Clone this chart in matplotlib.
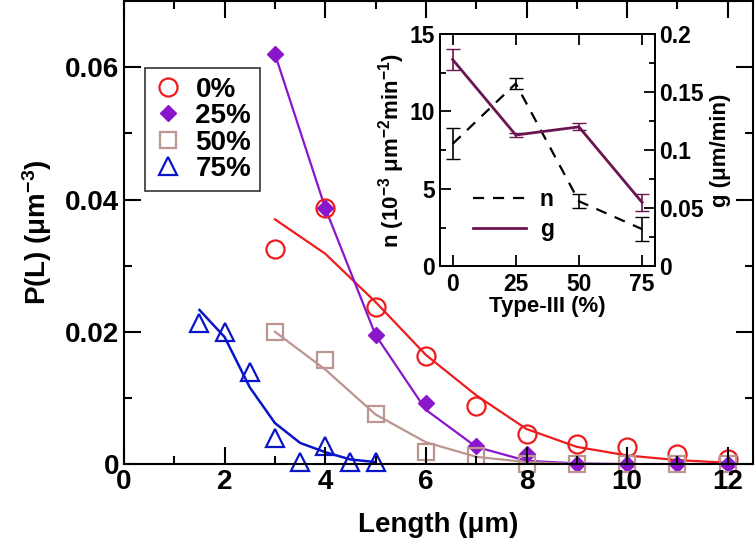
import matplotlib
matplotlib.use("Agg")
import matplotlib.pyplot as plt
from matplotlib.lines import Line2D

plt.rcParams.update({
    "font.family": "Liberation Sans",
    "font.weight": "bold",
    "axes.labelweight": "bold",
    "mathtext.fontset": "custom",
    "mathtext.rm": "Liberation Sans:bold",
    "mathtext.default": "rm",
    "axes.linewidth": 1.5,
})

# main panel: length distributions
L0 = [3, 4, 5, 6, 7, 8, 9, 10, 11, 12]
p0 = [0.0325, 0.0387, 0.0237, 0.0163, 0.0088, 0.0045, 0.0031, 0.0026, 0.0015, 0.0007]
f0 = [0.0370, 0.0318, 0.0245, 0.0165, 0.0104, 0.0053, 0.0026, 0.0013, 0.0006, 0.0002]
p25 = [0.0620, 0.0387, 0.0195, 0.0092, 0.0027, 0.0015, 0.0, 0.0, 0.0, 0.0]
f25 = [0.0620, 0.0387, 0.0195, 0.0082, 0.0026, 0.0005, 0.0001, 0.0, 0.0, 0.0]
p50 = [0.0200, 0.0157, 0.0075, 0.0018, 0.0012, 0.0, 0.0, 0.0, 0.0, 0.0]
f50 = [0.0200, 0.0143, 0.0075, 0.0033, 0.0011, 0.0003, 0.0, 0.0, 0.0, 0.0]
L75 = [1.5, 2, 2.5, 3, 3.5, 4, 4.5, 5]
p75 = [0.0213, 0.0199, 0.0139, 0.0039, 0.0003, 0.0027, 0.0003, 0.0003]
f75 = [0.0233, 0.0192, 0.0116, 0.0062, 0.0032, 0.0018, 0.0007, 0.0003]

# inset: nucleation rate n and growth rate g vs type-III fraction
typ = [0, 25, 50, 75]
n_val = [7.9, 11.8, 4.2, 2.4]
n_err = [1.0, 0.35, 0.45, 0.8]
g_val = [0.178, 0.113, 0.120, 0.055]
g_err = [0.009, 0.002, 0.003, 0.007]

RED, PUR, TAN, BLU, MAR = "#ee1c1c", "#8a16cc", "#bc9490", "#0a14c8", "#6a1550"

fig = plt.figure(figsize=(7.56, 5.39), dpi=100)
ax = fig.add_axes([0.164, 0.139, 0.832, 0.859])
ax.set_axisbelow(False)

ax.plot(L0, f0, "-", color=RED, lw=1.6)
ax.plot(L0, f25, "-", color=PUR, lw=1.6)
ax.plot(L0, f50, "-", color=TAN, lw=1.6)
ax.plot(L75, f75, "-", color=BLU, lw=1.8)
ax.plot(L0, p0, "o", ls="none", ms=13, mfc="none", mec=RED, mew=1.6, label="0%", clip_on=False)
ax.plot(L0, p25, "D", ls="none", ms=8, color=PUR, label="25%", clip_on=False)
ax.plot(L0, p50, "s", ls="none", ms=12, mfc="none", mec=TAN, mew=1.6, label="50%", clip_on=False)
ax.plot(L75, p75, "^", ls="none", ms=13, mfc="none", mec=BLU, mew=1.6, label="75%", clip_on=False)

ax.set_xlim(0, 12.5)
ax.set_ylim(0, 0.07)
ax.set_xticks([0, 2, 4, 6, 8, 10, 12])
ax.set_xticks(range(1, 13, 2), minor=True)
ax.set_yticks([0, 0.02, 0.04, 0.06])
ax.set_yticklabels(["0", "0.02", "0.04", "0.06"])
ax.set_yticks([0.01, 0.03, 0.05], minor=True)
ax.tick_params(which="both", direction="in", top=True, right=True, labelsize=20, width=1.5)
ax.tick_params(which="major", length=12)
ax.tick_params(which="minor", length=6)
ax.set_xlabel("Length (μm)", fontsize=20, labelpad=12)
ax.set_ylabel("P(L) (μm$^{-3}$)", fontsize=20, labelpad=8)
leg = ax.legend(loc="upper left", bbox_to_anchor=(0.012, 0.885), fontsize=20, frameon=True,
                fancybox=False, edgecolor="black", handletextpad=0.5, borderpad=0.3,
                labelspacing=0.02, handlelength=1.0)
leg.get_frame().set_linewidth(1.2)

# inset
ins = fig.add_axes([0.582, 0.506, 0.284, 0.431])
ins.errorbar(typ, n_val, yerr=n_err, color="black", ls=(0, (5, 4)), lw=1.6,
             capsize=5, elinewidth=1.2)
ins2 = ins.twinx()
ins2.errorbar(typ, g_val, yerr=g_err, color=MAR, ls="-", lw=2.0,
              capsize=5, elinewidth=1.2)
ins.set_xlim(-5, 80)
ins.set_ylim(0, 15)
ins2.set_ylim(0, 0.2)
ins.set_xticks(typ)
ins.set_yticks([0, 5, 10, 15])
ins.set_yticks([2.5, 7.5, 12.5], minor=True)
ins2.set_yticks([0, 0.05, 0.1, 0.15, 0.2])
ins2.set_yticklabels(["0", "0.05", "0.1", "0.15", "0.2"])
ins2.set_yticks([0.025, 0.075, 0.125, 0.175], minor=True)
ins.tick_params(which="both", direction="in", top=True, labelsize=16.5, width=1.3)
ins2.tick_params(which="both", direction="in", labelsize=16.5, width=1.3)
ins.tick_params(axis="x", pad=5)
for a in (ins, ins2):
    a.tick_params(which="major", length=8)
    a.tick_params(which="minor", length=4)
    for s in a.spines.values():
        s.set_linewidth(1.3)
ins.set_xlabel("Type-III (%)", fontsize=16, labelpad=0)
ins.set_ylabel("n (10$^{-3}$ μm$^{-2}$min$^{-1}$)", fontsize=16, labelpad=2)
ins2.set_ylabel("g (μm/min)", fontsize=16, labelpad=4)
handles = [Line2D([], [], color="black", ls=(0, (5, 4)), lw=1.6),
           Line2D([], [], color=MAR, ls="-", lw=2.0)]
ins2.legend(handles, ["n", "g"], loc="lower left", bbox_to_anchor=(0.06, 0.02), fontsize=16.5,
            frameon=False, handlelength=2.3, labelspacing=0.3, handletextpad=0.6)

fig.savefig("out.png", dpi=100)
